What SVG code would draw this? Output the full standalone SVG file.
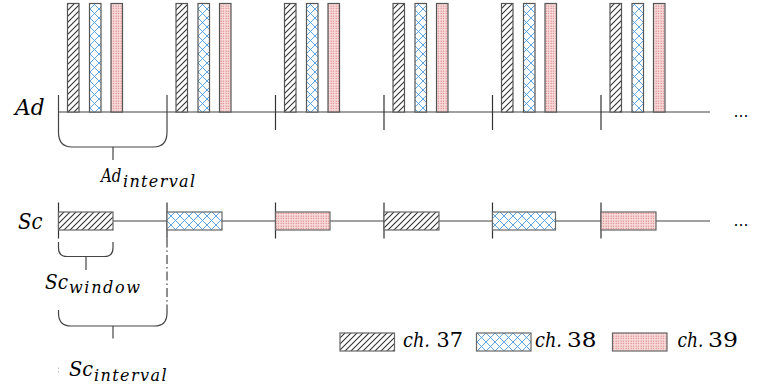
<svg xmlns="http://www.w3.org/2000/svg" width="773" height="392" viewBox="0 0 773 392">
<defs>
<pattern id="hatch" patternUnits="userSpaceOnUse" width="6" height="6">
<rect width="6" height="6" fill="#fff"/>
<path d="M0,6 L6,0 M-1.5,1.5 L1.5,-1.5 M4.5,7.5 L7.5,4.5" stroke="#333" stroke-width="1.1"/>
</pattern>
<pattern id="cross" patternUnits="userSpaceOnUse" width="9" height="9">
<rect width="9" height="9" fill="#fff"/>
<path d="M0,0 L9,9 M9,0 L0,9" stroke="#4d9be0" stroke-width="0.9"/>
</pattern>
<pattern id="dots" patternUnits="userSpaceOnUse" width="2.5" height="2.5">
<rect width="2.5" height="2.5" fill="#f7dcdc"/>
<rect x="0.6" y="0.6" width="1" height="1" fill="#d65a5a"/>
</pattern>
<style>
.bar{stroke:#555;stroke-width:1.2}
.box{stroke:#666;stroke-width:1.2}
.axis{stroke:#808080;stroke-width:1.6;fill:none}
.tick{stroke:#333;stroke-width:1.2;fill:none}
.brace{stroke:#444;stroke-width:1.2;fill:none}
.m{font-family:"DejaVu Serif",serif;font-style:italic;fill:#000}
.n{font-family:"DejaVu Serif",serif;fill:#000}
.dots{font-family:"DejaVu Sans",sans-serif;fill:#000}
</style>
</defs>
<rect width="773" height="392" fill="#fff"/>

<g id="connectors">
<line class="axis" x1="58.5" y1="112" x2="710" y2="112"/>
<line class="axis" x1="58.5" y1="221" x2="710" y2="221"/>
<path class="tick" d="M275.5,95 V130 M384,95 V130 M492.5,95 V130 M601,95 V130"/>
<path class="tick" d="M58.5,202.5 V238.5 M167,202.5 V238.5 M275.5,202.5 V238.5 M384,202.5 V238.5 M492.5,202.5 V238.5 M601,202.5 V238.5"/>
</g>

<g id="ad-bars">
<rect class="bar" x="67.5" y="3.5" width="11.5" height="108.5" fill="url(#hatch)"/>
<rect class="bar" x="89.5" y="3.5" width="11.5" height="108.5" fill="url(#cross)"/>
<rect class="bar" x="111" y="3.5" width="11.5" height="108.5" fill="url(#dots)"/>
<rect class="bar" x="176" y="3.5" width="11.5" height="108.5" fill="url(#hatch)"/>
<rect class="bar" x="198" y="3.5" width="11.5" height="108.5" fill="url(#cross)"/>
<rect class="bar" x="219.5" y="3.5" width="11.5" height="108.5" fill="url(#dots)"/>
<rect class="bar" x="284.5" y="3.5" width="11.5" height="108.5" fill="url(#hatch)"/>
<rect class="bar" x="306.5" y="3.5" width="11.5" height="108.5" fill="url(#cross)"/>
<rect class="bar" x="328" y="3.5" width="11.5" height="108.5" fill="url(#dots)"/>
<rect class="bar" x="393" y="3.5" width="11.5" height="108.5" fill="url(#hatch)"/>
<rect class="bar" x="415" y="3.5" width="11.5" height="108.5" fill="url(#cross)"/>
<rect class="bar" x="436.5" y="3.5" width="11.5" height="108.5" fill="url(#dots)"/>
<rect class="bar" x="501.5" y="3.5" width="11.5" height="108.5" fill="url(#hatch)"/>
<rect class="bar" x="523.5" y="3.5" width="11.5" height="108.5" fill="url(#cross)"/>
<rect class="bar" x="545" y="3.5" width="11.5" height="108.5" fill="url(#dots)"/>
<rect class="bar" x="610" y="3.5" width="11.5" height="108.5" fill="url(#hatch)"/>
<rect class="bar" x="632" y="3.5" width="11.5" height="108.5" fill="url(#cross)"/>
<rect class="bar" x="653.5" y="3.5" width="11.5" height="108.5" fill="url(#dots)"/>
</g>

<g id="sc-boxes">
<rect class="box" x="58.5" y="212" width="54.5" height="18" fill="url(#hatch)"/>
<rect class="box" x="167" y="212" width="55" height="18" fill="url(#cross)"/>
<rect class="box" x="275.5" y="212" width="54.5" height="18" fill="url(#dots)"/>
<rect class="box" x="384" y="212" width="55" height="18" fill="url(#hatch)"/>
<rect class="box" x="492.5" y="212" width="63" height="18" fill="url(#cross)"/>
<rect class="box" x="601" y="212" width="55" height="18" fill="url(#dots)"/>
</g>

<g id="ad-interval-brace">
<path class="brace" d="M58.5,95 V132 Q58.5,147 72,147 H153.5 Q167,147 167,132 V95"/>
<path class="brace" d="M113,147 V160"/>
</g>

<g id="sc-window-brace">
<path class="brace" d="M58.5,242 V248 Q58.5,256.5 67,256.5 H104.5 Q113,256.5 113,248 V242"/>
<path class="brace" d="M86,256.5 V270"/>
</g>

<g id="sc-interval-brace">
<path class="brace" d="M167,238.5 V308" stroke-dasharray="9 3 1.5 3"/>
<path class="brace" d="M58.5,310 V313 Q58.5,326 71,326 H154.5 Q167,326 167,313 V308"/>
<path class="brace" d="M113,326 V338.5"/>
<path d="M58.5,367.5 V374" stroke="#bbb" stroke-width="1" stroke-dasharray="1.5 2"/>
</g>

<g id="labels">
<text class="m" x="15" y="115" font-size="23" textLength="29.5" lengthAdjust="spacingAndGlyphs">Ad</text>
<text class="dots" x="733.5" y="116.5" font-size="15">…</text>
<text class="m" x="18" y="229" font-size="23" textLength="24.5" lengthAdjust="spacingAndGlyphs">Sc</text>
<text class="dots" x="733.5" y="225.5" font-size="15">…</text>
</g>

<g id="ad-interval-label">
<text class="m" x="101" y="182" font-size="19" textLength="20.5" lengthAdjust="spacingAndGlyphs">Ad</text>
<text class="m" x="123" y="187" font-size="16" textLength="72" lengthAdjust="spacing">interval</text>
</g>

<g id="sc-window-label">
<text class="m" x="45" y="289" font-size="20" textLength="23" lengthAdjust="spacingAndGlyphs">Sc</text>
<text class="m" x="69" y="293" font-size="16" textLength="71" lengthAdjust="spacing">window</text>
</g>

<g id="sc-interval-label">
<text class="m" x="69" y="376" font-size="20" textLength="24" lengthAdjust="spacingAndGlyphs">Sc</text>
<text class="m" x="94" y="381" font-size="16" textLength="72.5" lengthAdjust="spacing">interval</text>
</g>

<g id="legend">
<rect class="box" x="340" y="333" width="54.5" height="18" fill="url(#hatch)"/>
<text class="m" x="403" y="347" font-size="20" textLength="27" lengthAdjust="spacingAndGlyphs">ch.</text>
<text class="n" x="436.5" y="347" font-size="20" textLength="26.5" lengthAdjust="spacingAndGlyphs">37</text>
<rect class="box" x="476.5" y="333" width="54.5" height="18" fill="url(#cross)"/>
<text class="m" x="535" y="347" font-size="20" textLength="27" lengthAdjust="spacingAndGlyphs">ch.</text>
<text class="n" x="567" y="347" font-size="20" textLength="29.5" lengthAdjust="spacingAndGlyphs">38</text>
<rect class="box" x="612.5" y="333" width="54.5" height="18" fill="url(#dots)"/>
<text class="m" x="677.5" y="347" font-size="20" textLength="26" lengthAdjust="spacingAndGlyphs">ch.</text>
<text class="n" x="708" y="347" font-size="20" textLength="30" lengthAdjust="spacingAndGlyphs">39</text>
</g>
</svg>
